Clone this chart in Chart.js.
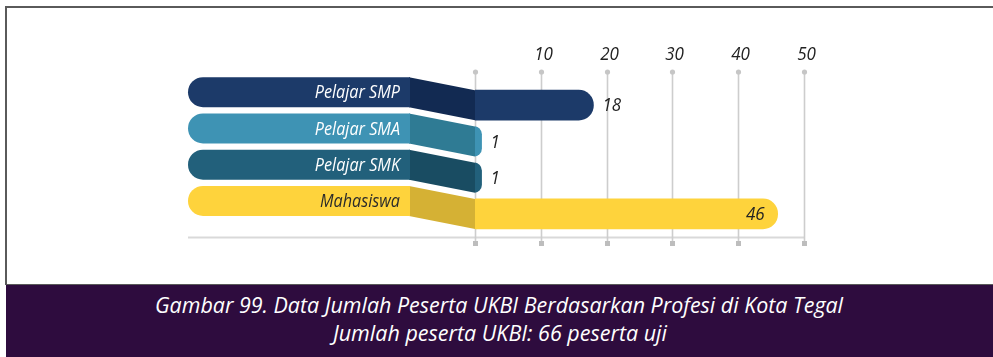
<!DOCTYPE html>
<html>
<head>
<meta charset="utf-8">
<script src="https://cdn.jsdelivr.net/npm/chart.js@4/dist/chart.umd.min.js"></script>
<style>
  html, body { margin: 0; padding: 0; background: #ffffff; }
  body { width: 993px; height: 357px; position: relative; overflow: hidden; font-family: "Open Sans", sans-serif; }
  #frame { position: absolute; left: 5px; top: 6px; width: 988px; height: 279px; border-left: 2px solid #5a5a5a; border-top: 2px solid #5a5a5a; box-sizing: border-box; }
  #chart { position: absolute; left: 0; top: 0; }
  #caption { position: absolute; left: 6px; top: 284px; width: 987px; height: 73px; background: #2e0c3e; border-top: 1px solid #5a5a5a; box-sizing: border-box; }
  .cap { position: absolute; left: 0; width: 100%; text-align: center; color: #ffffff; font-style: italic; font-size: 22px; line-height: 28px; white-space: nowrap; }
  .cap span { display: inline-block; transform-origin: 50% 50%; }
</style>
</head>
<body>
<div id="frame"></div>
<canvas id="chart" width="993" height="284"></canvas>
<div id="caption">
  <div class="cap" id="cap1" style="top:5px"><span>Gambar 99. Data Jumlah Peserta UKBI Berdasarkan Profesi di Kota Tegal</span></div>
  <div class="cap" id="cap2" style="top:33px"><span>Jumlah peserta UKBI: 66 peserta uji</span></div>
</div>
<script>
// Participants per profession
const categories = ['Pelajar SMP', 'Pelajar SMA', 'Pelajar SMK', 'Mahasiswa'];
const participants = [18, 1, 1, 46];

// Value axis ticks
const tickValues = [0, 10, 20, 30, 40, 50];
const tickLabels = ['', '10', '20', '30', '40', '50'];

// Palette per row: label pill / bar, the darker connector, label text
const pillColors = ['#1c3a69', '#3e93b4', '#22607b', '#fed33c'];
const connectorColors = ['#122a52', '#2f7b94', '#194c62', '#d5b134'];
const labelColors = ['#ffffff', '#ffffff', '#ffffff', '#2b2b2b'];

const FONT = '"Open Sans", sans-serif';

// Squeeze the caption lines to the width of the condensed face used in print
function fitCaption(id, targetWidth) {
  const span = document.querySelector('#' + id + ' span');
  const w = span.getBoundingClientRect().width;
  span.style.transform = 'scaleX(' + (targetWidth / w) + ')';
}
fitCaption('cap1', 688);
fitCaption('cap2', 334);

// Draw text slightly condensed, keeping the given anchor
function condensedText(ctx, txt, xPos, yPos, align, squeeze) {
  ctx.save();
  ctx.translate(xPos, yPos);
  ctx.scale(squeeze, 1);
  ctx.textAlign = align;
  ctx.fillText(txt, 0, 0);
  ctx.restore();
}

const ribbonPlugin = {
  id: 'ribbons',
  beforeDatasetsDraw(chart) {
    const { ctx, chartArea } = chart;
    const x = chart.scales.x;
    const x0 = x.getPixelForValue(0);
    const yTop = chartArea.top - 15;
    const yBase = chartArea.bottom + 5.5;
    const ySq = chartArea.bottom + 11.5;
    ctx.save();
    // horizontal base line
    ctx.strokeStyle = '#d9d9d9';
    ctx.lineWidth = 2;
    ctx.beginPath();
    ctx.moveTo(x0 - 287, yBase);
    ctx.lineTo(x.getPixelForValue(tickValues[tickValues.length - 1]), yBase);
    ctx.stroke();
    tickValues.forEach((v, i) => {
      const px = Math.round(x.getPixelForValue(v)) + 0.5;
      ctx.strokeStyle = '#cdcdcd';
      ctx.lineWidth = 1.6;
      ctx.beginPath();
      ctx.moveTo(px, yTop);
      ctx.lineTo(px, ySq);
      ctx.stroke();
      ctx.fillStyle = '#c6c6c6';
      ctx.beginPath();
      ctx.arc(px, yTop, 2.6, 0, Math.PI * 2);
      ctx.fill();
      ctx.fillStyle = '#bdbdbd';
      ctx.fillRect(px - 2.5, ySq - 2.5, 5, 5);
      if (tickLabels[i]) {
        ctx.fillStyle = '#222222';
        ctx.font = 'italic 18.5px ' + FONT;
        ctx.textBaseline = 'middle';
        condensedText(ctx, tickLabels[i], px + 2, chartArea.top - 32, 'center', 0.92);
      }
    });
    ctx.restore();
  },
  afterDatasetsDraw(chart) {
    const { ctx } = chart;
    const x = chart.scales.x;
    const y = chart.scales.y;
    const x0 = x.getPixelForValue(0);
    const pillL = x0 - 287, pillR = x0 - 65, h = 30, r = 15, lift = 13;
    ctx.save();
    categories.forEach((name, i) => {
      const cy = y.getPixelForValue(i);
      const py = cy - lift;
      // connector from the label pill down to the bar
      ctx.fillStyle = connectorColors[i];
      ctx.beginPath();
      ctx.moveTo(pillR - 1, py - h / 2);
      ctx.lineTo(x0, cy - h / 2);
      ctx.lineTo(x0, cy + h / 2);
      ctx.lineTo(pillR - 1, py + h / 2);
      ctx.closePath();
      ctx.fill();
      // label pill
      ctx.fillStyle = pillColors[i];
      ctx.beginPath();
      ctx.moveTo(pillR, py - h / 2);
      ctx.lineTo(pillL + r, py - h / 2);
      ctx.arc(pillL + r, py, r, -Math.PI / 2, Math.PI / 2, true);
      ctx.lineTo(pillR, py + h / 2);
      ctx.closePath();
      ctx.fill();
      ctx.fillStyle = labelColors[i];
      ctx.font = 'italic 18px ' + FONT;
      ctx.textBaseline = 'middle';
      condensedText(ctx, name, pillR - 10, py + 1, 'right', 0.9);
    });
    // value labels at the bar ends
    const meta = chart.getDatasetMeta(0);
    meta.data.forEach((bar, i) => {
      const txt = String(participants[i]);
      ctx.font = 'italic 18.5px ' + FONT;
      ctx.fillStyle = '#222222';
      ctx.textBaseline = 'middle';
      const w = ctx.measureText(txt).width * 0.92;
      if (bar.x + 10 + w > chart.chartArea.right - 20) {
        condensedText(ctx, txt, bar.x - 13, bar.y + 1, 'right', 0.92);
      } else {
        condensedText(ctx, txt, bar.x + 9, bar.y + 1, 'left', 0.92);
      }
    });
    ctx.restore();
  }
};

new Chart(document.getElementById('chart'), {
  type: 'bar',
  data: {
    labels: categories,
    datasets: [{
      data: participants,
      backgroundColor: pillColors,
      // start a little under the connector so short bars keep a rounded cap
      base: -1.5,
      barThickness: 30,
      borderRadius: 15,
      borderSkipped: 'start'
    }]
  },
  options: {
    indexAxis: 'y',
    responsive: false,
    animation: false,
    devicePixelRatio: 1,
    layout: { padding: { left: 475, right: 189, top: 87, bottom: 52 } },
    scales: {
      x: { display: false, min: 0, max: 50 },
      y: { display: false }
    },
    plugins: { legend: { display: false }, tooltip: { enabled: false } }
  },
  plugins: [ribbonPlugin]
});
</script>
</body>
</html>
